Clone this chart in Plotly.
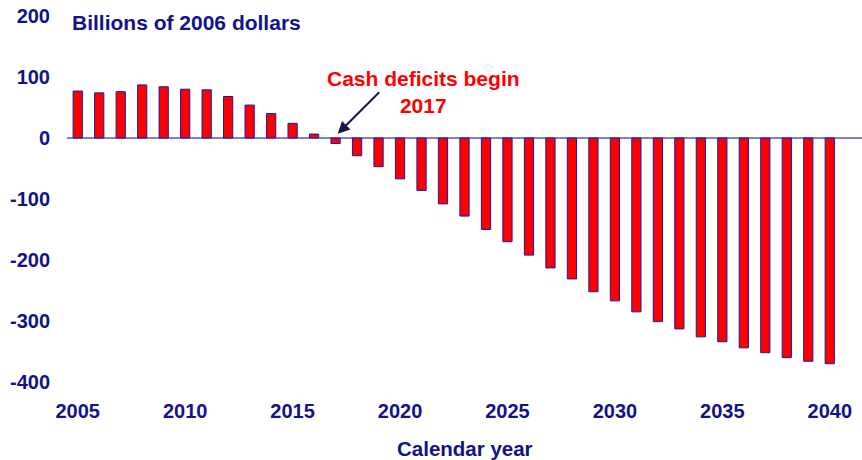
import plotly.graph_objects as go

years = list(range(2005, 2041))
balance = [77, 74, 76, 87, 84, 80, 79, 68, 54, 40, 24, 6.5,
           -9, -29, -47, -67, -86, -108, -128, -150, -170, -192,
           -213, -231, -252, -267, -285, -301, -313, -326, -334,
           -344, -352, -360, -366, -370]
y_ticks = [200, 100, 0, -100, -200, -300, -400]
y_labels = ['200', '100', '0', '-100', '-200', '-300', '-400']
x_ticks = [2005, 2010, 2015, 2020, 2025, 2030, 2035, 2040]

navy = '#12128c'
font_family = 'Liberation Sans, Arial, sans-serif'

fig = go.Figure()
fig.add_trace(go.Bar(x=years,
                     y=balance,
                     width=0.43,
                     marker=dict(color='#ff0000', line=dict(color='#1a1aa0', width=1))))

fig.add_annotation(x=2017.1, y=7, ax=43, ay=-43, text='', showarrow=True,
                   arrowhead=2, arrowsize=1.2, arrowwidth=2, arrowcolor='#141450')
fig.add_annotation(x=2021.1, y=75, text='Cash deficits begin<br>2017', showarrow=False,
                   font=dict(family=font_family, size=21, color='#ff0000', weight='bold'),
                   yanchor='middle', xanchor='center', align='center')
fig.add_annotation(xref='paper', yref='paper', x=0.004, y=1.0, yshift=-6,
                   text='Billions of 2006 dollars', showarrow=False,
                   xanchor='left', yanchor='middle',
                   font=dict(family=font_family, size=21, color=navy, weight='bold'))
fig.add_annotation(xref='paper', yref='paper', x=0.5, y=0, yshift=-66,
                   text='Calendar year', showarrow=False,
                   xanchor='center', yanchor='middle',
                   font=dict(family=font_family, size=20.5, color=navy, weight='bold'))

fig.update_layout(width=862, height=460,
                  plot_bgcolor='white', paper_bgcolor='white',
                  showlegend=False,
                  margin=dict(l=67, r=0, t=16, b=78),
                  font=dict(family=font_family, size=20, color=navy, weight='bold'),
                  xaxis=dict(range=[2004.5, 2041.5], tickmode='array', tickvals=x_ticks,
                             showgrid=False, zeroline=False, showline=False,
                             ticks='', ticklabelstandoff=15, automargin=False),
                  yaxis=dict(range=[-400, 200], tickmode='array', tickvals=y_ticks,
                             ticktext=y_labels,
                             showgrid=False, showline=False, ticks='',
                             ticklabelstandoff=16, automargin=False,
                             zeroline=True, zerolinecolor='#8080c8', zerolinewidth=2))

fig.write_html('out.html', config={'displayModeBar': False},
               post_script="document.body.style.margin='0';")
